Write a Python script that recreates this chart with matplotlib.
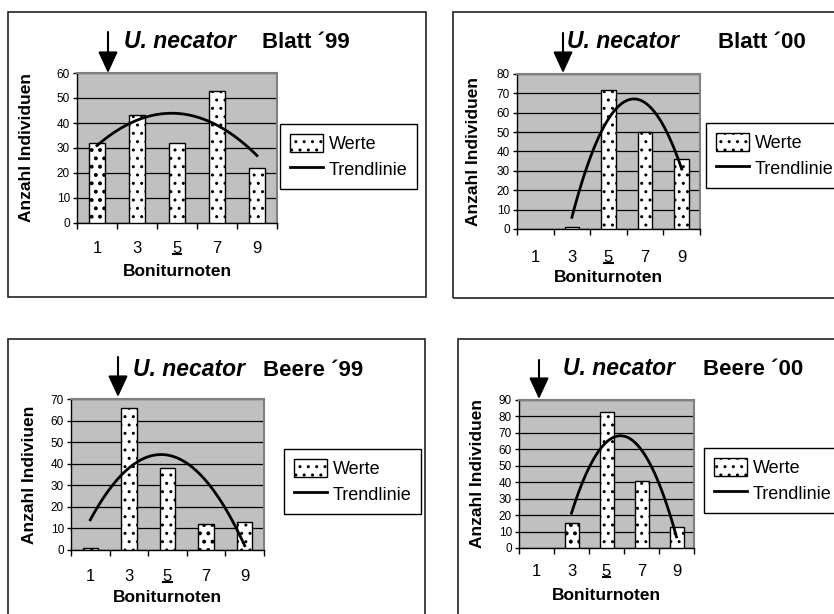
import numpy as np
import matplotlib
matplotlib.use('Agg')
import matplotlib.pyplot as plt
from matplotlib.patches import Rectangle, Patch, FancyArrowPatch, ArrowStyle
from matplotlib.lines import Line2D

plt.rcParams['font.family'] = ['Liberation Sans', 'DejaVu Sans']

W, H = 834, 614

# data
noten = ['1', '3', '5', '7', '9']
blatt99 = [32, 43, 32, 53, 22]
blatt00 = [np.nan, 1, 72, 50, 36]
beere99 = [1, 66, 38, 12, 13]
beere00 = [np.nan, 15, 83, 41, 13]
titel = ['Blatt \u00b499', 'Blatt \u00b400', 'Beere \u00b499', 'Beere \u00b400']
ymax = [60, 80, 70, 90]
ylabels = ['Anzahl Individuen', 'Anzahl Individuen', 'Anzahl Indiviuen', 'Anzahl Individuen']

# layout in image pixels (x0, y0, x1, y1), y counted from the top
panels = [
    dict(vals=blatt99, plot=(77, 73, 277, 223), frame=(8, 12, 426, 297), leg=(280, 124),
         arrow=(108, 32, 73), tx=(124, 262, 40), tick_y=247, xl_y=272, yl_x=27, sparse=[0]),
    dict(vals=blatt00, plot=(517, 74, 700, 229), frame=(453, 12, 845, 298), leg=(706, 123),
         arrow=(563, 33, 73), tx=(567, 718, 40), tick_y=256, xl_y=278, yl_x=473, sparse=[]),
    dict(vals=beere99, plot=(71, 399, 264, 550), frame=(8, 339, 425, 625), leg=(284, 449),
         arrow=(118, 357, 397), tx=(133, 263, 368), tick_y=575, xl_y=598, yl_x=30, sparse=[3]),
    dict(vals=beere00, plot=(519, 400, 694, 548), frame=(458, 339, 845, 625), leg=(704, 448),
         arrow=(539, 360, 399), tx=(563, 703, 367), tick_y=570, xl_y=595, yl_x=477, sparse=[1]),
]


def fx(x):
    return x / W


def fy(y):
    return 1 - y / H


fig = plt.figure(figsize=(W / 100, H / 100), dpi=100)

for i, p in enumerate(panels):
    x0, y0, x1, y1 = p['frame']
    fig.add_artist(Rectangle((fx(x0), fy(y1)), fx(x1 - x0), (y1 - y0) / H,
                             transform=fig.transFigure, fill=False, ec='#222222', lw=1.2))

    x0, y0, x1, y1 = p['plot']
    pw, ph = x1 - x0, y1 - y0
    ax = fig.add_axes([fx(x0), fy(y1), pw / W, ph / H])
    ax.set_facecolor('#c0c0c0')

    vals = np.array(p['vals'], dtype=float)
    pos = np.arange(len(noten))
    bars = ax.bar(pos, np.nan_to_num(vals), width=0.4, color='white', edgecolor='black',
                  lw=1, hatch='..', zorder=3)
    for j, b in enumerate(bars):
        if np.isnan(vals[j]):
            b.set_visible(False)
        if j in p['sparse'] and hasattr(b, 'set_hatch_linewidth'):
            b.set_hatch_linewidth(1.6)

    # quadratic trend line (Excel polynomial trendline) over the filled points
    ok = ~np.isnan(vals)
    coef = np.polyfit(pos[ok], vals[ok], 2)
    xs = np.linspace(pos[ok].min(), pos[ok].max(), 100)
    ax.plot(xs, np.polyval(coef, xs), color='black', lw=2, zorder=4)

    ax.set_xlim(-0.5, len(noten) - 0.5)
    ax.set_ylim(0, ymax[i])
    ax.set_yticks(np.arange(0, ymax[i] + 1, 10))
    ax.grid(axis='y', color='black', lw=0.9, zorder=1)
    ax.set_axisbelow(True)

    ax.set_xticks(pos)
    ax.set_xticklabels(noten, fontsize=12)
    ax.set_xticks(np.arange(-0.5, len(noten)), minor=True)
    tick_gap = p['tick_y'] - y1
    ax.tick_params(axis='x', which='major', length=0, pad=(tick_gap - 6) * 0.72)
    ax.tick_params(axis='x', which='minor', length=4, width=1, direction='out')
    ax.tick_params(axis='y', length=3, width=1, labelsize=8.5, pad=2)

    for s in ['left', 'bottom']:
        ax.spines[s].set_color('black')
        ax.spines[s].set_linewidth(1)
    for s in ['top', 'right']:
        ax.spines[s].set_color('#808080')
        ax.spines[s].set_linewidth(1.5)

    # underline under "5"
    uy = -(p['tick_y'] + 7 - y1) / ph
    ax.plot([2 - 0.11, 2 + 0.11], [uy, uy], color='black', lw=1.5,
            transform=ax.get_xaxis_transform(), clip_on=False)

    ax.set_xlabel('Boniturnoten', fontsize=12.5, fontweight='bold')
    ax.xaxis.set_label_coords(0.5, -(p['xl_y'] - y1) / ph)
    ax.xaxis.label.set_va('center')
    ax.set_ylabel(ylabels[i], fontsize=12.5, fontweight='bold')
    ax.yaxis.set_label_coords((p['yl_x'] - x0) / pw, 0.5)
    ax.yaxis.label.set_va('center')

    # title and arrow (shared baseline)
    tx1, tx2, ty = p['tx']
    fig.text(fx(tx1), fy(ty + 8), 'U. necator', fontsize=16.5, fontweight='bold',
             style='italic', ha='left', va='baseline')
    fig.text(fx(tx2), fy(ty + 8), titel[i], fontsize=16, fontweight='bold',
             ha='left', va='baseline')
    axx, ay0, ay1 = p['arrow']
    fig.add_artist(FancyArrowPatch(
        (fx(axx), fy(ay0)), (fx(axx), fy(ay1)), transform=fig.transFigure,
        arrowstyle=ArrowStyle('-|>', head_length=13, head_width=6),
        mutation_scale=1, lw=1.5, color='black', shrinkA=0, shrinkB=0))

    handles = [Patch(facecolor='white', edgecolor='black', hatch='..', lw=1),
               Line2D([], [], color='black', lw=2)]
    lx, ly = p['leg']
    leg = fig.legend(handles, ['Werte', 'Trendlinie'], loc='upper left',
                     bbox_to_anchor=(fx(lx), fy(ly)), bbox_transform=fig.transFigure,
                     fancybox=False, edgecolor='black', framealpha=1, borderaxespad=0,
                     fontsize=13, handlelength=1.85, handleheight=1.2, handletextpad=0.3,
                     borderpad=0.55, labelspacing=0.35)
    leg.get_frame().set_linewidth(1)

fig.savefig('out.png', dpi=100)
